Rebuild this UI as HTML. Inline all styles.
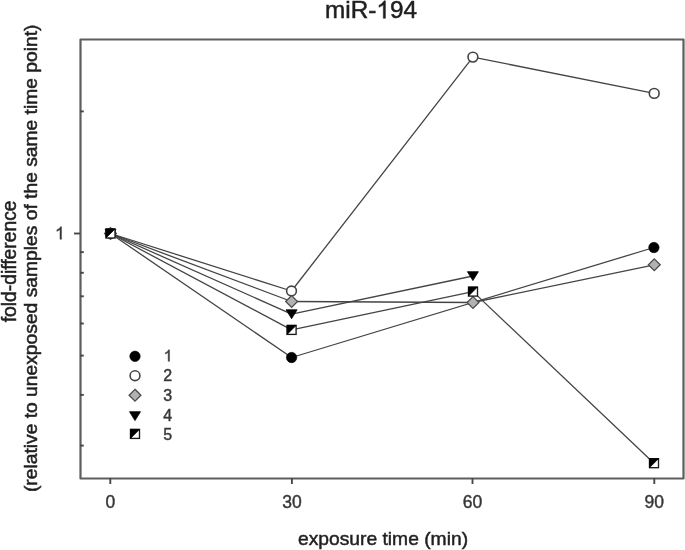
<!DOCTYPE html>
<html><head><meta charset="utf-8"><style>
html,body{margin:0;padding:0;background:#fff;width:685px;height:550px;overflow:hidden}
svg{display:block;filter:blur(0.6px);font-family:"Liberation Sans",sans-serif}
.big{fill:#1e1e1e;stroke:#262626;stroke-width:0.5px}
.sm{fill:#363636;stroke:#3c3c3c;stroke-width:0.45px}
.hide{fill:none;stroke:none}
</style></head><body>
<svg width="685" height="550" viewBox="0 0 685 550">
<rect width="685" height="550" fill="#fff"/>
<rect x="80.5" y="39.5" width="603" height="439" fill="none" stroke="#5e5e5e" stroke-width="2.2" stroke-linejoin="round"/>
<line x1="110.3" y1="478" x2="110.3" y2="484" stroke="#484848" stroke-width="1.9"/>
<text class="sm" x="110.3" y="508" font-size="17.5" text-anchor="middle">0</text>
<line x1="291.9" y1="478" x2="291.9" y2="484" stroke="#484848" stroke-width="1.9"/>
<text class="sm" x="291.9" y="508" font-size="17.5" text-anchor="middle">30</text>
<line x1="472.5" y1="478" x2="472.5" y2="484" stroke="#484848" stroke-width="1.9"/>
<text class="sm" x="472.5" y="508" font-size="17.5" text-anchor="middle">60</text>
<line x1="654.3" y1="478" x2="654.3" y2="484" stroke="#484848" stroke-width="1.9"/>
<text class="sm" x="654.3" y="508" font-size="17.5" text-anchor="middle">90</text>
<line x1="74" y1="233.5" x2="80" y2="233.5" stroke="#484848" stroke-width="1.9"/>
<path class="sm" transform="translate(55.00,239.30) scale(0.00854,-0.00854)" d="M763,0 L583,0 L583,1147 Q518,1085 465,1054 Q412,1023 359,992 Q306,961 221,930 L221,1104 Q373,1175 429,1225.5 Q485,1276 541,1326.5 Q597,1377 643,1472 L763,1472 Z" style="stroke-width:52.7"/>
<line x1="80" y1="111.4" x2="83.8" y2="111.4" stroke="#484848" stroke-width="1.9"/>
<line x1="80" y1="252.1" x2="83.8" y2="252.1" stroke="#484848" stroke-width="1.9"/>
<line x1="80" y1="272.8" x2="83.8" y2="272.8" stroke="#484848" stroke-width="1.9"/>
<line x1="80" y1="296.3" x2="83.8" y2="296.3" stroke="#484848" stroke-width="1.9"/>
<line x1="80" y1="323.5" x2="83.8" y2="323.5" stroke="#484848" stroke-width="1.9"/>
<line x1="80" y1="355.6" x2="83.8" y2="355.6" stroke="#484848" stroke-width="1.9"/>
<line x1="80" y1="394.9" x2="83.8" y2="394.9" stroke="#484848" stroke-width="1.9"/>
<line x1="80" y1="445.6" x2="83.8" y2="445.6" stroke="#484848" stroke-width="1.9"/>
<text class="big" x="325.09" y="18.3" font-size="24.3">miR-<tspan class="hide">1</tspan>94</text>
<path class="big" transform="translate(376.37,18.30) scale(0.01187,-0.01187)" d="M763,0 L583,0 L583,1147 Q518,1085 465,1054 Q412,1023 359,992 Q306,961 221,930 L221,1104 Q373,1175 429,1225.5 Q485,1276 541,1326.5 Q597,1377 643,1472 L763,1472 Z" style="stroke-width:42.1"/>
<text class="big" x="383" y="544.5" font-size="19.25" text-anchor="middle">exposure time (min)</text>
<text class="big" transform="translate(15.7,261.4) rotate(-90)" font-size="19.3" text-anchor="middle">fold-difference</text>
<text class="big" transform="translate(36.8,258.3) rotate(-90)" font-size="19.25" text-anchor="middle">(relative to unexposed samples of the same time point)</text>
<polyline points="110.5,233.5 291.6,357.5 653.9,247.5" fill="none" stroke="#444" stroke-width="1.3" stroke-linejoin="round"/>
<polyline points="110.5,233.5 291.5,291.0 472.9,57.1 654.2,93.4" fill="none" stroke="#444" stroke-width="1.3" stroke-linejoin="round"/>
<polyline points="110.5,233.5 291.6,301.5 473,302.5 654.3,264.8" fill="none" stroke="#444" stroke-width="1.3" stroke-linejoin="round"/>
<polyline points="110.5,233.5 291.6,314.1 472.9,276.0" fill="none" stroke="#444" stroke-width="1.3" stroke-linejoin="round"/>
<polyline points="110.5,233.5 291.6,329.9 473,291.6 654,463.2" fill="none" stroke="#444" stroke-width="1.3" stroke-linejoin="round"/>
<circle cx="110.5" cy="233.5" r="5.2" fill="#000" stroke="#000" stroke-width="0.6"/>
<circle cx="291.6" cy="357.5" r="5.2" fill="#000" stroke="#000" stroke-width="0.6"/>
<circle cx="653.9" cy="247.5" r="5.2" fill="#000" stroke="#000" stroke-width="0.6"/>
<circle cx="110.5" cy="233.5" r="4.9" fill="#fff" stroke="#444" stroke-width="1.6"/>
<circle cx="291.5" cy="291.0" r="4.9" fill="#fff" stroke="#444" stroke-width="1.6"/>
<circle cx="472.9" cy="57.1" r="4.9" fill="#fff" stroke="#444" stroke-width="1.6"/>
<circle cx="654.2" cy="93.4" r="4.9" fill="#fff" stroke="#444" stroke-width="1.6"/>
<polygon points="110.5,227.6 116.4,233.5 110.5,239.4 104.6,233.5" fill="#b2b2b2" stroke="#4a4a4a" stroke-width="1.3"/>
<polygon points="291.6,295.6 297.5,301.5 291.6,307.4 285.70000000000005,301.5" fill="#b2b2b2" stroke="#4a4a4a" stroke-width="1.3"/>
<polygon points="473,296.6 478.9,302.5 473,308.4 467.1,302.5" fill="#b2b2b2" stroke="#4a4a4a" stroke-width="1.3"/>
<polygon points="654.3,258.90000000000003 660.1999999999999,264.8 654.3,270.7 648.4,264.8" fill="#b2b2b2" stroke="#4a4a4a" stroke-width="1.3"/>
<polygon points="105.0,229.2 116.0,229.2 110.5,238.1" fill="#000" stroke="#000" stroke-width="0.8" stroke-linejoin="round"/>
<polygon points="286.1,309.8 297.1,309.8 291.6,318.70000000000005" fill="#000" stroke="#000" stroke-width="0.8" stroke-linejoin="round"/>
<polygon points="467.4,271.7 478.4,271.7 472.9,280.6" fill="#000" stroke="#000" stroke-width="0.8" stroke-linejoin="round"/>
<rect x="106.0" y="229.0" width="9.0" height="9.0" fill="#fff" stroke="#1a1a1a" stroke-width="1.35"/><polygon points="106.0,229.0 115.0,229.0 106.0,238.0" fill="#000" stroke="#000" stroke-width="0.7" stroke-linejoin="round"/>
<rect x="287.1" y="325.4" width="9.0" height="9.0" fill="#fff" stroke="#1a1a1a" stroke-width="1.35"/><polygon points="287.1,325.4 296.1,325.4 287.1,334.4" fill="#000" stroke="#000" stroke-width="0.7" stroke-linejoin="round"/>
<rect x="468.5" y="287.1" width="9.0" height="9.0" fill="#fff" stroke="#1a1a1a" stroke-width="1.35"/><polygon points="468.5,287.1 477.5,287.1 468.5,296.1" fill="#000" stroke="#000" stroke-width="0.7" stroke-linejoin="round"/>
<rect x="649.5" y="458.7" width="9.0" height="9.0" fill="#fff" stroke="#1a1a1a" stroke-width="1.35"/><polygon points="649.5,458.7 658.5,458.7 649.5,467.7" fill="#000" stroke="#000" stroke-width="0.7" stroke-linejoin="round"/>
<circle cx="135" cy="356.3" r="5.2" fill="#000" stroke="#000" stroke-width="0.6"/>
<path class="sm" transform="translate(163.60,361.30) scale(0.00781,-0.00781)" d="M763,0 L583,0 L583,1147 Q518,1085 465,1054 Q412,1023 359,992 Q306,961 221,930 L221,1104 Q373,1175 429,1225.5 Q485,1276 541,1326.5 Q597,1377 643,1472 L763,1472 Z" style="stroke-width:57.6"/>
<circle cx="135" cy="375.7" r="4.9" fill="#fff" stroke="#444" stroke-width="1.6"/>
<text class="sm" x="163.2" y="380.9" font-size="16">2</text>
<polygon points="135,389.3 140.9,395.2 135,401.09999999999997 129.1,395.2" fill="#b2b2b2" stroke="#4a4a4a" stroke-width="1.3"/>
<text class="sm" x="163.2" y="401.3" font-size="16">3</text>
<polygon points="129.5,411.7 140.5,411.7 135,420.6" fill="#000" stroke="#000" stroke-width="0.8" stroke-linejoin="round"/>
<text class="sm" x="163.2" y="420.6" font-size="16">4</text>
<rect x="130.5" y="429.4" width="9.0" height="9.0" fill="#fff" stroke="#1a1a1a" stroke-width="1.35"/><polygon points="130.5,429.4 139.5,429.4 130.5,438.4" fill="#000" stroke="#000" stroke-width="0.7" stroke-linejoin="round"/>
<text class="sm" x="163.2" y="440.0" font-size="16">5</text>
</svg>
</body></html>
